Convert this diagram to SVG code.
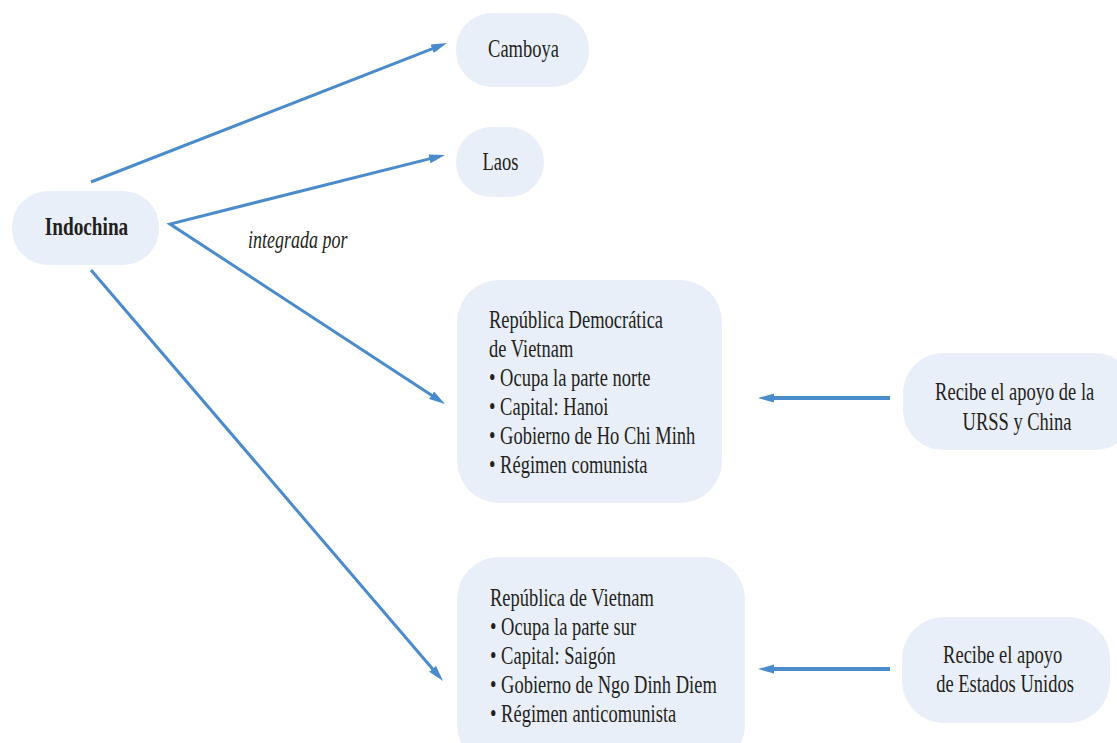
<svg xmlns="http://www.w3.org/2000/svg" width="1117" height="743" viewBox="0 0 1117 743">
<style>
.box{fill:#E9EFF8;stroke:none}
.t{font-family:"Liberation Serif","Times New Roman",serif;font-size:25px;fill:#231F20}
.b{font-weight:bold}
.i{font-style:italic}
.c{fill:none;stroke:#4A8BCB;stroke-width:3}
.h{stroke-width:4}
</style>
<defs>
<marker id="ah" markerUnits="userSpaceOnUse" markerWidth="17" markerHeight="10" refX="6" refY="4.5" orient="auto-start-reverse" viewBox="0 0 17 10">
<path d="M0,0 L16,4.5 L0,9 Z" fill="#4A8BCB"/>
</marker>
</defs>
<rect width="1117" height="743" fill="#FFFFFF"/>
<g id="connectors">
<line class="c" x1="91" y1="182" x2="437.7" y2="46.6" marker-end="url(#ah)"/>
<path class="c" d="M435.3,157.4 L170,224 L436.6,398.5" marker-start="url(#ah)" marker-end="url(#ah)"/>
<line class="c" x1="91" y1="270" x2="436.5" y2="673.4" marker-end="url(#ah)"/>
<line class="c h" x1="890" y1="398" x2="768" y2="398" marker-end="url(#ah)"/>
<line class="c h" x1="890" y1="669" x2="768" y2="669" marker-end="url(#ah)"/>
<text class="t i" transform="matrix(0.72 0 0 1 248 0)" x="0" y="248">integrada por</text>
</g>
<g id="indochina">
<rect class="box" x="12" y="191" width="147" height="74" rx="36"/>
<text class="t b" text-anchor="middle" transform="matrix(0.77 0 0 1 86.5 0)" x="0" y="235">Indochina</text>
</g>
<g id="camboya">
<rect class="box" x="456" y="13" width="133" height="74" rx="36"/>
<text class="t" text-anchor="middle" transform="matrix(0.74 0 0 1 523.5 0)" x="0" y="57">Camboya</text>
</g>
<g id="laos">
<rect class="box" x="456" y="127" width="88" height="70" rx="35"/>
<text class="t" text-anchor="middle" transform="matrix(0.74 0 0 1 500.5 0)" x="0" y="170">Laos</text>
</g>
<g id="rdv">
<rect class="box" x="457" y="280" width="265" height="223" rx="42"/>
<text class="t" transform="matrix(0.74 0 0 1 489 0)">
<tspan x="0" y="328">República Democrática</tspan>
<tspan x="0" y="357">de Vietnam</tspan>
<tspan x="0" y="386">• Ocupa la parte norte</tspan>
<tspan x="0" y="415">• Capital: Hanoi</tspan>
<tspan x="0" y="444">• Gobierno de Ho Chi Minh</tspan>
<tspan x="0" y="473">• Régimen comunista</tspan>
</text>
</g>
<g id="rv">
<rect class="box" x="457" y="557" width="288" height="210" rx="42"/>
<text class="t" transform="matrix(0.74 0 0 1 490 0)">
<tspan x="0" y="606">República de Vietnam</tspan>
<tspan x="0" y="635">• Ocupa la parte sur</tspan>
<tspan x="0" y="664">• Capital: Saigón</tspan>
<tspan x="0" y="693">• Gobierno de Ngo Dinh Diem</tspan>
<tspan x="0" y="722">• Régimen anticomunista</tspan>
</text>
</g>
<g id="urss">
<rect class="box" x="903" y="353" width="232" height="97" rx="40"/>
<text class="t" text-anchor="middle" transform="matrix(0.74 0 0 1 1017 0)">
<tspan x="0" y="400">Recibe el apoyo de la</tspan>
<tspan x="0" y="430">URSS y China</tspan>
</text>
</g>
<g id="eeuu">
<rect class="box" x="902" y="617" width="208" height="106" rx="42"/>
<text class="t" text-anchor="middle" transform="matrix(0.74 0 0 1 1005 0)">
<tspan x="0" y="663">Recibe el apoyo</tspan>
<tspan x="0" y="692">de Estados Unidos</tspan>
</text>
</g>
</svg>
